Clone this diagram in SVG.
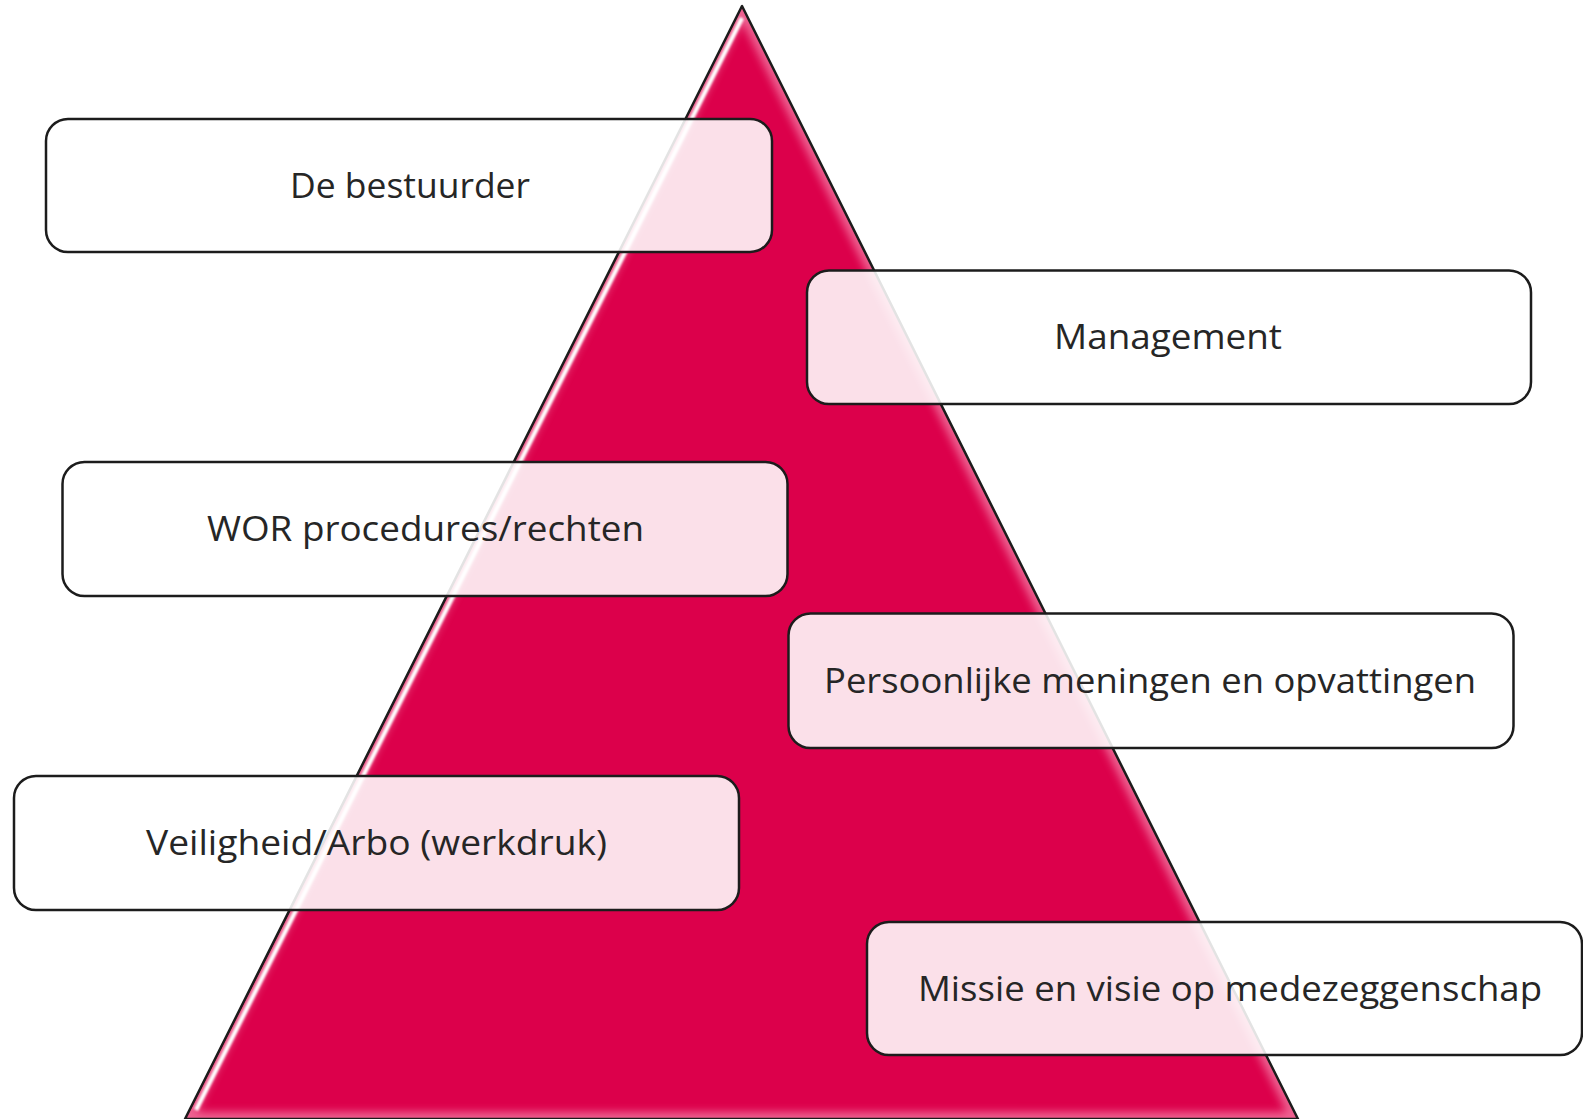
<svg xmlns="http://www.w3.org/2000/svg" width="1583" height="1119" viewBox="0 0 1583 1119">
<defs>
<style>
.box{fill:#ffffff;fill-opacity:0.88;stroke:#1c1c1c;stroke-width:2.5}
.lbl{font-family:"Open Sans","Liberation Sans",sans-serif;font-size:34px;fill:#262626;text-anchor:middle}
</style>
<clipPath id="triClip"><polygon points="742,6 185,1119 1298,1119"/></clipPath>
<filter id="blur4" x="-10%" y="-10%" width="120%" height="120%"><feGaussianBlur stdDeviation="4"/></filter>
<filter id="blur1" x="-10%" y="-10%" width="120%" height="120%"><feGaussianBlur stdDeviation="1.2"/></filter>
</defs>
<rect width="1583" height="1119" fill="#ffffff"/>
<g id="pyramid">
<polygon points="742,6 185,1119 1298,1119" fill="#DC004B"/>
<g clip-path="url(#triClip)">
<polygon points="742,6 185,1119 1298,1119" fill="none" stroke="#f27aa3" stroke-width="14" filter="url(#blur4)" opacity="0.8"/>
<line x1="742" y1="18" x2="196" y2="1110" stroke="#ffffff" stroke-width="4.5" filter="url(#blur1)"/>
<line x1="737" y1="14" x2="189" y2="1110" stroke="#b00035" stroke-width="3" opacity="0.7"/>
</g>
<polygon points="742,6 185,1119 1298,1119" fill="none" stroke="#1c1c1c" stroke-width="2.5" stroke-linejoin="round"/>
</g>
<g id="connectors"/>
<g id="node-bestuurder">
<rect class="box" x="46" y="119" width="726" height="133" rx="22"/>
<text class="lbl" x="410" y="197.5" textLength="240" lengthAdjust="spacingAndGlyphs">De bestuurder</text>
</g>
<g id="node-management">
<rect class="box" x="807" y="270.5" width="724" height="133.5" rx="22"/>
<text class="lbl" x="1168" y="349" textLength="228" lengthAdjust="spacingAndGlyphs">Management</text>
</g>
<g id="node-wor">
<rect class="box" x="62.5" y="462" width="725" height="134" rx="22"/>
<text class="lbl" x="425.5" y="541" textLength="437" lengthAdjust="spacingAndGlyphs">WOR procedures/rechten</text>
</g>
<g id="node-persoonlijk">
<rect class="box" x="788.5" y="613.5" width="725" height="134.5" rx="22"/>
<text class="lbl" x="1150" y="693" textLength="652" lengthAdjust="spacingAndGlyphs">Persoonlijke meningen en opvattingen</text>
</g>
<g id="node-veiligheid">
<rect class="box" x="14" y="776" width="725" height="134" rx="22"/>
<text class="lbl" x="376.5" y="855" textLength="461" lengthAdjust="spacingAndGlyphs">Veiligheid/Arbo (werkdruk)</text>
</g>
<g id="node-missie">
<rect class="box" x="867" y="922" width="715" height="133" rx="22"/>
<text class="lbl" x="1230" y="1000.5" textLength="624" lengthAdjust="spacingAndGlyphs">Missie en visie op medezeggenschap</text>
</g>
</svg>
